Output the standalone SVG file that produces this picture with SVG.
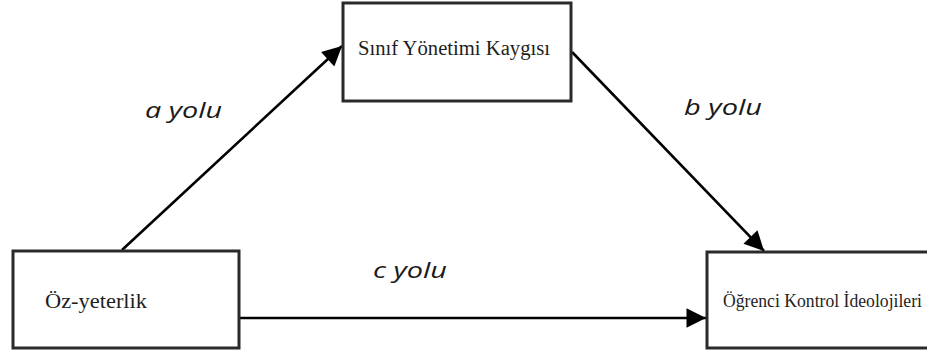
<svg xmlns="http://www.w3.org/2000/svg" width="927" height="358" viewBox="0 0 927 358">
  <style>
    .box { fill: #ffffff; stroke: #2a2a2a; stroke-width: 3; }
    .node-text { font-family: "Liberation Serif", "Times New Roman", serif; fill: #1e1e1e; }
    .path-label { font-family: "Open Sans", "DejaVu Sans", sans-serif; font-style: italic; font-size: 22px; fill: #1a1a1a; }
    .edge { stroke: #000000; stroke-width: 2.6; fill: none; marker-end: url(#arrow); }
  </style>
  <defs>
    <marker id="arrow" viewBox="0 0 10 10" refX="10" refY="5" markerWidth="9.5" markerHeight="7.5" markerUnits="strokeWidth" orient="auto">
      <path d="M0,0 L10,5 L0,10 Z" fill="#000000"/>
    </marker>
  </defs>
  <rect width="927" height="358" fill="#ffffff"/>

  <g id="connectors">
    <line class="edge" x1="122" y1="250" x2="342" y2="46"/>
    <line class="edge" x1="572" y1="52" x2="764" y2="251"/>
    <line class="edge" x1="239" y1="318" x2="706" y2="318"/>
  </g>

  <g id="node-sinif">
    <rect class="box" x="343" y="3" width="228" height="98"/>
    <text class="node-text" x="358" y="55" font-size="20" textLength="192" lengthAdjust="spacingAndGlyphs">Sınıf Yönetimi Kaygısı</text>
  </g>

  <g id="node-ozyeterlik">
    <rect class="box" x="13" y="251" width="226" height="97"/>
    <text class="node-text" x="45" y="308" font-size="21" textLength="102" lengthAdjust="spacingAndGlyphs">Öz-yeterlik</text>
  </g>

  <g id="node-ogrenci">
    <rect class="box" x="707" y="252" width="230" height="96"/>
    <text class="node-text" x="723" y="307" font-size="18" textLength="199" lengthAdjust="spacingAndGlyphs">Öğrenci Kontrol İdeolojileri</text>
  </g>

  <g id="labels">
    <text class="path-label" x="145" y="118" textLength="77" lengthAdjust="spacingAndGlyphs">a yolu</text>
    <text class="path-label" x="684" y="115" textLength="78" lengthAdjust="spacingAndGlyphs">b yolu</text>
    <text class="path-label" x="373" y="278" textLength="74" lengthAdjust="spacingAndGlyphs">c yolu</text>
  </g>
</svg>
